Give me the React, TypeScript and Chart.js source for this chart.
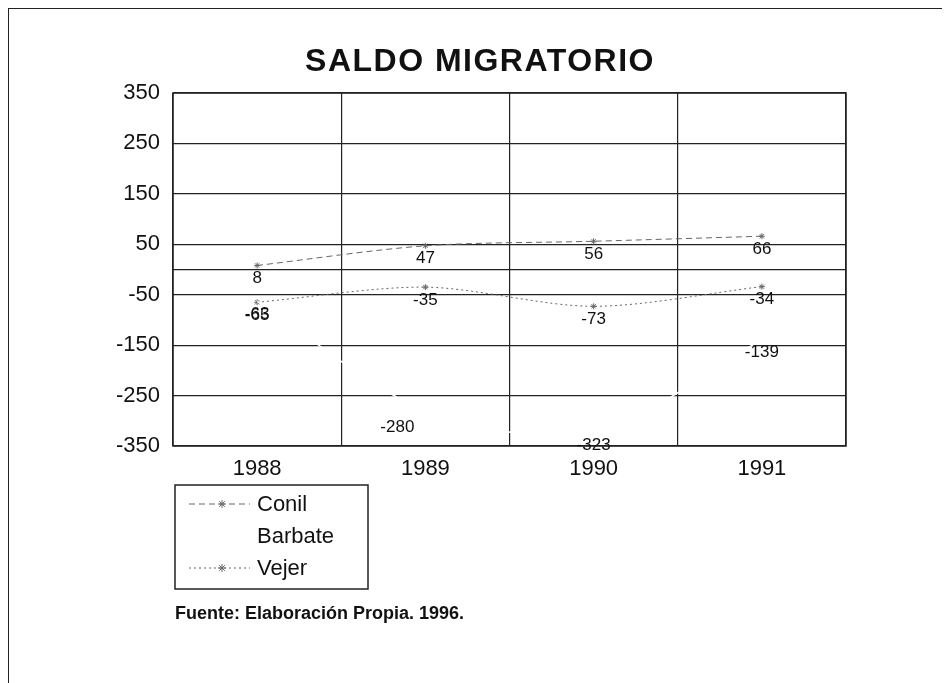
import React, { useEffect, useRef } from "react";
import { Chart, registerables } from "chart.js";

Chart.register(...registerables);

const years = ["1988", "1989", "1990", "1991"];
const conil = [8, 47, 56, 66];
const barbate = [-63, -280, -323, -139];
const vejer = [-65, -35, -73, -34];
const yTicks = [-350, -250, -150, -50, 0, 50, 150, 250, 350];
const titleText = "SALDO MIGRATORIO";
const sourceText = "Fuente: Elaboración Propia. 1996.";

const FONT = "'Liberation Sans', Arial, sans-serif";

function drawStar(ctx: CanvasRenderingContext2D, x: number, y: number, r: number) {
  ctx.beginPath();
  for (let k = 0; k < 4; k++) {
    const ang = (Math.PI / 4) * k;
    ctx.moveTo(x - Math.cos(ang) * r, y - Math.sin(ang) * r);
    ctx.lineTo(x + Math.cos(ang) * r, y + Math.sin(ang) * r);
  }
  ctx.stroke();
}

// label nudges (dataset index - point index) -> [dx, dy], as in the printed chart
const labelNudge: Record<string, [number, number]> = { "1-1": [-28, 4] };

const decoPlugin = {
  id: "deco",
  afterDatasetsDraw(chart: any) {
    const ctx: CanvasRenderingContext2D = chart.ctx;
    const a = chart.chartArea;
    ctx.save();
    ctx.strokeStyle = "#222";
    ctx.lineWidth = 1.5;
    ctx.strokeRect(a.left, a.top, a.right - a.left, a.bottom - a.top);
    ctx.font = `17px ${FONT}`;
    ctx.fillStyle = "#111";
    ctx.textAlign = "center";
    ctx.textBaseline = "middle";
    chart.data.datasets.forEach((ds: any, i: number) => {
      const meta = chart.getDatasetMeta(i);
      meta.data.forEach((pt: any, j: number) => {
        const n = labelNudge[`${i}-${j}`] || [0, 0];
        ctx.fillText(String(ds.data[j]), pt.x + n[0], pt.y + 13 + n[1]);
      });
    });
    ctx.restore();
  },
  afterDraw(chart: any) {
    const ctx: CanvasRenderingContext2D = chart.ctx;
    ctx.save();
    // title
    ctx.font = `bold 32px ${FONT}`;
    (ctx as any).letterSpacing = "1.5px";
    ctx.fillStyle = "#111";
    ctx.textAlign = "center";
    ctx.textBaseline = "middle";
    ctx.fillText(titleText, 471, 53);
    (ctx as any).letterSpacing = "0px";

    // legend box
    const lx = 166, ly = 476, lw = 193, lh = 104;
    ctx.strokeStyle = "#222";
    ctx.lineWidth = 1.5;
    ctx.strokeRect(lx, ly, lw, lh);
    const rowY = [495, 527, 559];
    ctx.font = `22px ${FONT}`;
    ctx.textAlign = "left";
    chart.data.datasets.forEach((ds: any, i: number) => {
      const y = rowY[i];
      ctx.save();
      ctx.strokeStyle = ds.borderColor;
      ctx.lineWidth = 1;
      ctx.setLineDash(ds.borderDash || []);
      ctx.beginPath();
      ctx.moveTo(180, y);
      ctx.lineTo(241, y);
      ctx.stroke();
      ctx.setLineDash([]);
      if (ds.pointRadius > 0) {
        ctx.strokeStyle = ds.pointBorderColor;
        drawStar(ctx, 213, y, 4);
      }
      ctx.restore();
      ctx.fillStyle = "#111";
      ctx.fillText(ds.label, 248, y + 1);
    });

    // source
    ctx.font = `bold 18px ${FONT}`;
    ctx.fillText(sourceText, 166, 605);
    ctx.restore();
  },
};

export default function App() {
  const ref = useRef<HTMLCanvasElement | null>(null);
  useEffect(() => {
    if (!ref.current) return;
    const chart = new Chart(ref.current, {
      type: "line",
      data: {
        labels: years,
        datasets: [
          {
            label: "Conil",
            data: conil,
            borderColor: "#666",
            borderWidth: 1,
            borderDash: [6, 4],
            tension: 0.3,
            pointStyle: "star",
            pointRadius: 3,
            pointBorderColor: "#666",
            pointBackgroundColor: "#666",
            pointBorderWidth: 1,
            fill: false,
          },
          {
            label: "Barbate",
            data: barbate,
            borderColor: "#ffffff",
            borderWidth: 1.5,
            tension: 0.3,
            pointRadius: 0,
            pointBorderColor: "#ffffff",
            fill: false,
          },
          {
            label: "Vejer",
            data: vejer,
            borderColor: "#666",
            borderWidth: 1,
            borderDash: [2, 3],
            tension: 0.3,
            pointStyle: "star",
            pointRadius: 3,
            pointBorderColor: "#666",
            pointBackgroundColor: "#666",
            pointBorderWidth: 1,
            fill: false,
          },
        ],
      },
      options: {
        responsive: false,
        animation: false,
        layout: { padding: { top: 84, left: 0, right: 96, bottom: 207 } },
        plugins: {
          legend: { display: false },
          title: { display: false },
          tooltip: { enabled: false },
        },
        scales: {
          x: {
            offset: true,
            grid: { offset: true, color: "#222", lineWidth: 1.2, drawTicks: false },
            border: { display: false },
            ticks: { color: "#111", font: { family: FONT, size: 22 }, padding: 10 },
            afterFit: (s: any) => { s.height = 30; },
          },
          y: {
            min: -350,
            max: 350,
            grid: { color: "#222", lineWidth: 1.2, drawTicks: false },
            border: { display: false },
            afterBuildTicks: (s: any) => { s.ticks = yTicks.map((v) => ({ value: v })); },
            ticks: {
              color: "#111",
              font: { family: FONT, size: 22 },
              padding: 13,
              callback: (v: any) => (v === 0 ? "" : String(v)),
            },
            afterFit: (s: any) => { s.width = 164; },
          },
        },
      },
      plugins: [decoPlugin],
    });
    return () => chart.destroy();
  }, []);

  return (
    <div
      style={{
        borderTop: "1px solid #222",
        borderLeft: "1px solid #222",
        height: 674,
        width: 933,
        background: "#fff",
      }}
    >
      <canvas ref={ref} width={933} height={674} style={{ display: "block" }} />
    </div>
  );
}
